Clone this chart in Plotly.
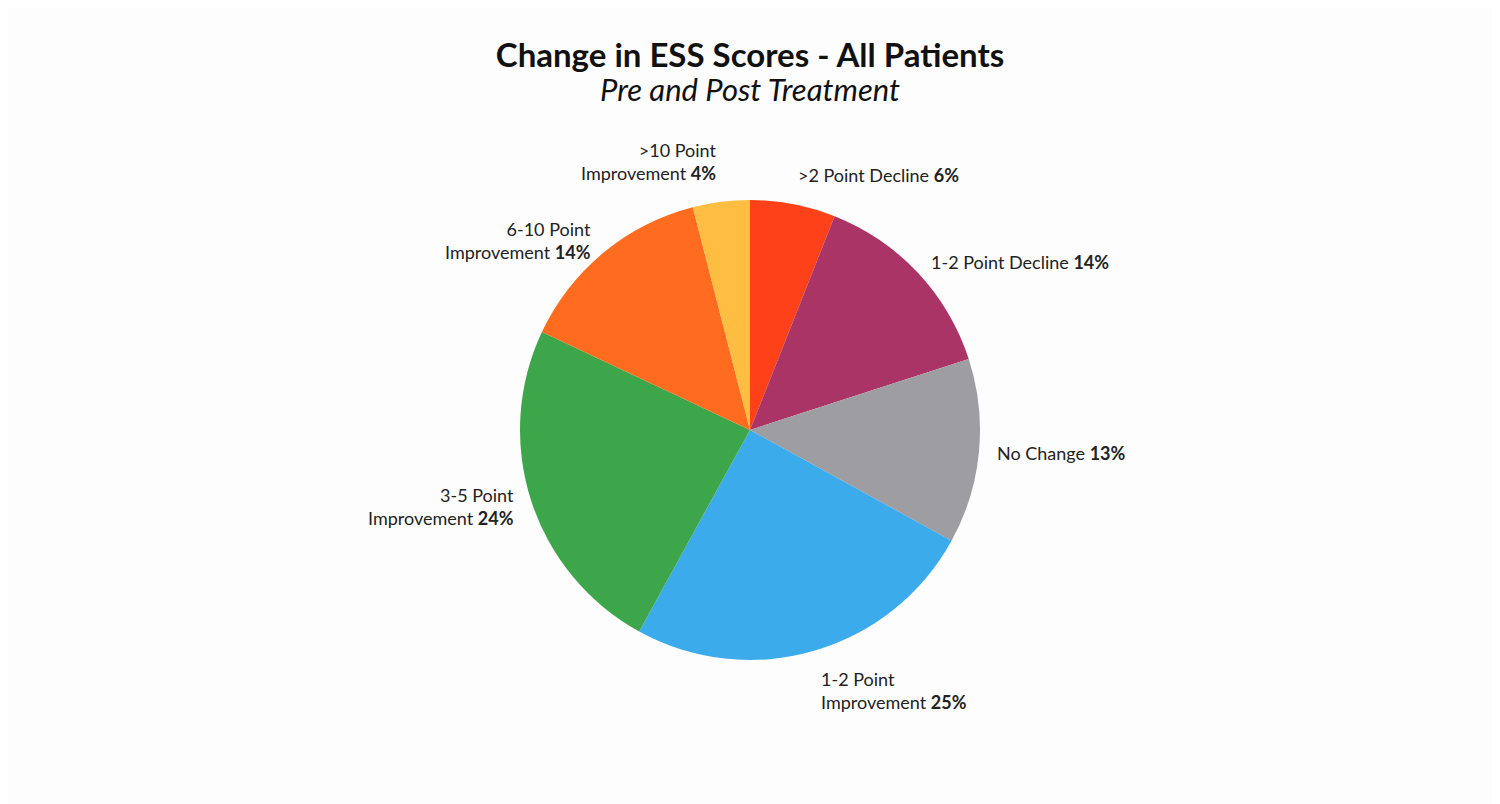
import numpy as np
import plotly.graph_objects as go

# slices clockwise from 12 o'clock
categories = [
    '>2 Point Decline',
    '1-2 Point Decline',
    'No Change',
    '1-2 Point Improvement',
    '3-5 Point Improvement',
    '6-10 Point Improvement',
    '>10 Point Improvement',
]
values = [6, 14, 13, 25, 24, 14, 4]
# how the label text is broken onto lines
label_text = [
    '>2 Point Decline',
    '1-2 Point Decline',
    'No Change',
    '1-2 Point<br>Improvement',
    '3-5 Point<br>Improvement',
    '6-10 Point<br>Improvement',
    '>10 Point<br>Improvement',
]
colors = ['#FF4119', '#AB3466', '#9E9DA2', '#3BABEC', '#3EA64A', '#FF6B1F', '#FFBD41']

W, H = 1500, 804
# pie placement (page has an 8px body margin)
cx, cy, rad = 742, 422, 230

fig = go.Figure(go.Pie(
    labels=categories,
    values=values,
    sort=False,
    direction='clockwise',
    rotation=0,
    marker=dict(colors=colors, line=dict(width=0)),
    textinfo='none',
    showlegend=False,
    domain=dict(x=[(cx - rad) / W, (cx + rad) / W],
                y=[1 - (cy + rad) / H, 1 - (cy - rad) / H]),
    hoverinfo='label+percent',
))

# outside labels, placed at each slice's middle angle
total = sum(values)
cum = np.cumsum([0] + values[:-1])
for txt, v, c in zip(label_text, values, cum):
    ang = np.deg2rad((c + v / 2) / total * 360)
    k = 1.07
    px = cx + k * rad * np.sin(ang)
    py = cy - k * rad * np.cos(ang)
    deg = np.rad2deg(ang)
    xanchor = 'left' if deg < 180 else 'right'
    if deg < 30 or deg > 330:
        yanchor = 'bottom'
    elif 150 < deg < 210:
        yanchor = 'top'
    else:
        yanchor = 'middle'
    fig.add_annotation(
        x=px / W, y=1 - py / H, xref='paper', yref='paper',
        text=f'{txt} <b>{v}%</b>', showarrow=False,
        xanchor=xanchor, yanchor=yanchor,
        align='left' if xanchor == 'left' else 'right',
        font=dict(family='Lato', size=18, color='#222222'),
    )

fig.add_annotation(
    x=0.5 - 8 / W, y=1 - 81 / H, xref='paper', yref='paper',
    text='<i>Pre and Post Treatment</i>', showarrow=False,
    xanchor='center', yanchor='middle',
    font=dict(family='Lato', size=31, color='#111111'),
)

fig.update_layout(
    width=W, height=H,
    paper_bgcolor='#FDFDFD',
    plot_bgcolor='#FDFDFD',
    margin=dict(l=0, r=0, t=0, b=0),
    title=dict(
        text='<b>Change in ESS Scores - All Patients</b>',
        x=0.5 - 8 / W, xanchor='center', y=1 - 47 / H, yanchor='middle',
        yref='container',
        font=dict(family='Lato', size=33, color='#111111'),
    ),
)

fig.write_html('out.html')
